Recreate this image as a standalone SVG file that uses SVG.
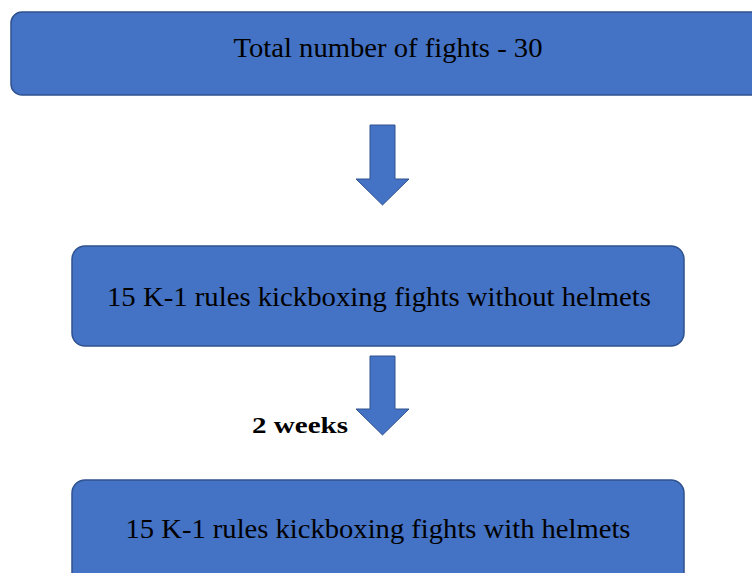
<svg xmlns="http://www.w3.org/2000/svg" width="752" height="573" viewBox="0 0 752 573">
<style>
.box{fill:#4472C4;stroke:#2F528F;stroke-width:1.5}
.t{font-family:"Liberation Serif","Times New Roman",serif;font-size:27px;fill:#000;text-anchor:middle}
.arr{fill:#4472C4;stroke:#2F528F;stroke-width:1}
.lbl{font-family:"Liberation Serif","Times New Roman",serif;font-size:23px;font-weight:bold;fill:#000}
</style>
<rect width="752" height="573" fill="#fff"/>
<g id="node-total">
<rect class="box" x="11" y="12" width="760" height="83" rx="11"/>
<text class="t" x="388" y="57" textLength="309" lengthAdjust="spacingAndGlyphs">Total number of fights - 30</text>
</g>
<g id="node-without">
<rect class="box" x="72" y="246" width="612" height="100" rx="13"/>
<text class="t" x="379" y="306" textLength="544" lengthAdjust="spacingAndGlyphs">15 K-1 rules kickboxing fights without helmets</text>
</g>
<g id="node-with">
<rect class="box" x="72" y="480" width="612" height="110" rx="13"/>
<text class="t" x="378" y="538" textLength="505" lengthAdjust="spacingAndGlyphs">15 K-1 rules kickboxing fights with helmets</text>
</g>
<g id="connectors">
<polygon class="arr" points="370,125 395,125 395,179 409,179 382.5,205 356,179 370,179"/>
<polygon class="arr" points="370,356 395,356 395,409 409,409 382.5,435 356,409 370,409"/>
<text class="lbl" x="252" y="433" textLength="96" lengthAdjust="spacingAndGlyphs">2 weeks</text>
</g>
</svg>
